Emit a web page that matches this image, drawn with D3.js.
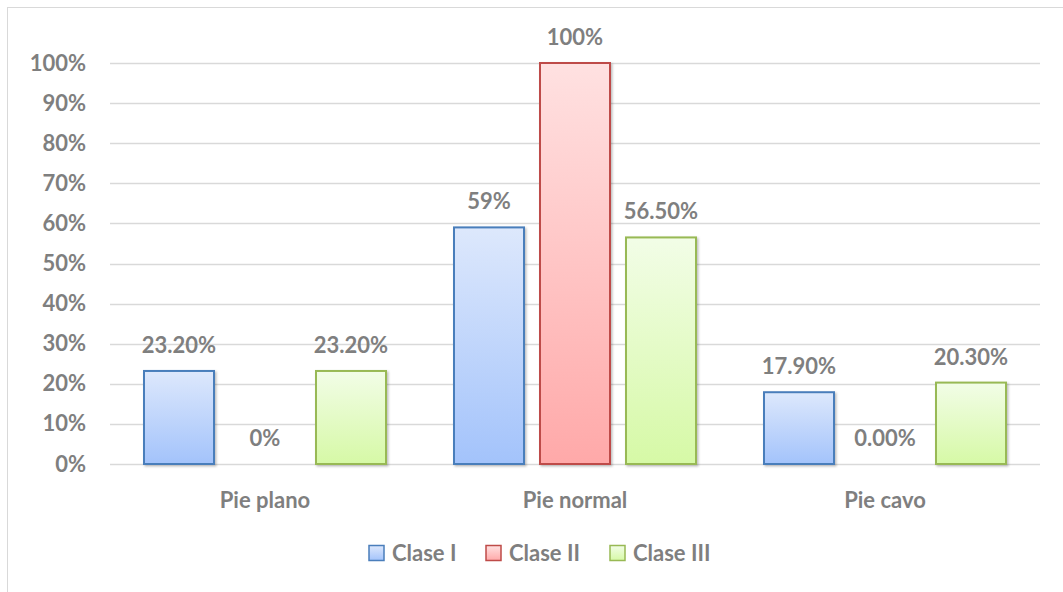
<!DOCTYPE html>
<html>
<head>
<meta charset="utf-8">
<script src="https://cdn.jsdelivr.net/npm/d3@7"></script>
<style>
  body { margin: 0; background: #fff; }
  text { font-family: Lato, "Open Sans", sans-serif; font-weight: bold; fill: #7f7f7f; }
</style>
</head>
<body>
<div id="chart"></div>
<script>
const width = 1063;
const height = 592;

// Chart data
const categories = ["Pie plano", "Pie normal", "Pie cavo"];
const seriesNames = ["Clase I", "Clase II", "Clase III"];
const claseI = [23.2, 59, 17.9];
const claseII = [0, 100, 0];
const claseIII = [23.2, 56.5, 20.3];
const labelsI = ["23.20%", "59%", "17.90%"];
const labelsII = ["0%", "100%", "0.00%"];
const labelsIII = ["23.20%", "56.50%", "20.30%"];
const yTicks = [0, 10, 20, 30, 40, 50, 60, 70, 80, 90, 100];

const seriesValues = [claseI, claseII, claseIII];
const seriesLabels = [labelsI, labelsII, labelsIII];
const strokes = ["#4a7ebb", "#be4b48", "#98b954"];
const gradTop = ["#dde8fc", "#ffe1e1", "#f2fde7"];
const gradBottom = ["#a3c3fb", "#ffa9a9", "#d6f9a6"];

const fontSize = "22px";
const margin = { left: 110, right: 23, top: 63, bottom: 128 };

const svg = d3.select("#chart").append("svg")
    .attr("width", width)
    .attr("height", height);

// chart frame
svg.append("rect")
    .attr("x", 7.5).attr("y", 7.5)
    .attr("width", width + 20).attr("height", height + 20)
    .attr("fill", "none")
    .attr("stroke", "#d9d9d9");

const defs = svg.append("defs");
seriesNames.forEach((s, i) => {
    const g = defs.append("linearGradient")
        .attr("id", "grad" + i)
        .attr("x1", 0).attr("y1", 0).attr("x2", 0).attr("y2", 1);
    g.append("stop").attr("offset", "0%").attr("stop-color", gradTop[i]);
    g.append("stop").attr("offset", "100%").attr("stop-color", gradBottom[i]);
});
const shadow = defs.append("filter").attr("id", "shadow")
    .attr("x", "-10%").attr("y", "-10%").attr("width", "130%").attr("height", "130%");
shadow.append("feDropShadow")
    .attr("dx", 1.5).attr("dy", 1.5).attr("stdDeviation", 1.2)
    .attr("flood-color", "#000").attr("flood-opacity", 0.25);

const x0 = d3.scaleBand()
    .domain(categories)
    .range([margin.left, width - margin.right])
    .paddingInner(0)
    .paddingOuter(0);

const x1 = d3.scaleBand()
    .domain(seriesNames)
    .range([0, x0.bandwidth()])
    .paddingInner(16 / 86)
    .paddingOuter(34 / 86);

const y = d3.scaleLinear()
    .domain([0, 100])
    .range([height - margin.bottom, margin.top]);

// gridlines
svg.append("g")
    .selectAll("line")
    .data(yTicks)
    .enter().append("line")
    .attr("x1", margin.left)
    .attr("x2", width - margin.right)
    .attr("y1", d => Math.round(y(d)) + 0.5)
    .attr("y2", d => Math.round(y(d)) + 0.5)
    .attr("stroke", "#d9d9d9")
    .attr("stroke-width", 1.5);

// y axis labels
const yAxis = d3.axisLeft(y)
    .tickValues(yTicks)
    .tickFormat(d => d + "%")
    .tickSize(0)
    .tickPadding(24);
const gy = svg.append("g")
    .attr("transform", `translate(${margin.left},0)`)
    .call(yAxis);
gy.select(".domain").remove();
gy.selectAll("text")
    .attr("font-size", fontSize)
    .attr("font-family", null)
    .attr("fill", null);

// x axis labels
const xAxis = d3.axisBottom(x0).tickSize(0).tickPadding(28);
const gx = svg.append("g")
    .attr("transform", `translate(0,${height - margin.bottom})`)
    .call(xAxis);
gx.select(".domain").remove();
gx.selectAll("text")
    .attr("font-size", fontSize)
    .attr("font-family", null)
    .attr("fill", null);

// bars
const groups = svg.selectAll("g.cat")
    .data(categories)
    .enter().append("g")
    .attr("class", "cat")
    .attr("transform", d => `translate(${x0(d)},0)`);

seriesNames.forEach((s, si) => {
    groups.each(function(cat, ci) {
        const v = seriesValues[si][ci];
        const g = d3.select(this);
        if (v > 0) {
            g.append("rect")
                .attr("x", x1(s))
                .attr("y", y(v))
                .attr("width", x1.bandwidth())
                .attr("height", y(0) - y(v))
                .attr("fill", `url(#grad${si})`)
                .attr("stroke", strokes[si])
                .attr("stroke-width", 2)
                .attr("filter", "url(#shadow)");
        }
        g.append("text")
            .attr("x", x1(s) + x1.bandwidth() / 2)
            .attr("y", y(v) - 18)
            .attr("text-anchor", "middle")
            .attr("font-size", fontSize)
            .text(seriesLabels[si][ci]);
    });
});

// legend
const legendItems = [
    { name: "Clase I", x: 369 },
    { name: "Clase II", x: 486 },
    { name: "Clase III", x: 610 }
];
const legend = svg.append("g").attr("transform", "translate(0,553)");
legendItems.forEach((item, i) => {
    legend.append("rect")
        .attr("x", item.x).attr("y", -7.5)
        .attr("width", 15).attr("height", 15)
        .attr("fill", `url(#grad${i})`)
        .attr("stroke", strokes[i])
        .attr("stroke-width", 1.5);
    legend.append("text")
        .attr("x", item.x + 23)
        .attr("y", 0)
        .attr("dy", "0.35em")
        .attr("font-size", fontSize)
        .text(item.name);
});
</script>
</body>
</html>
